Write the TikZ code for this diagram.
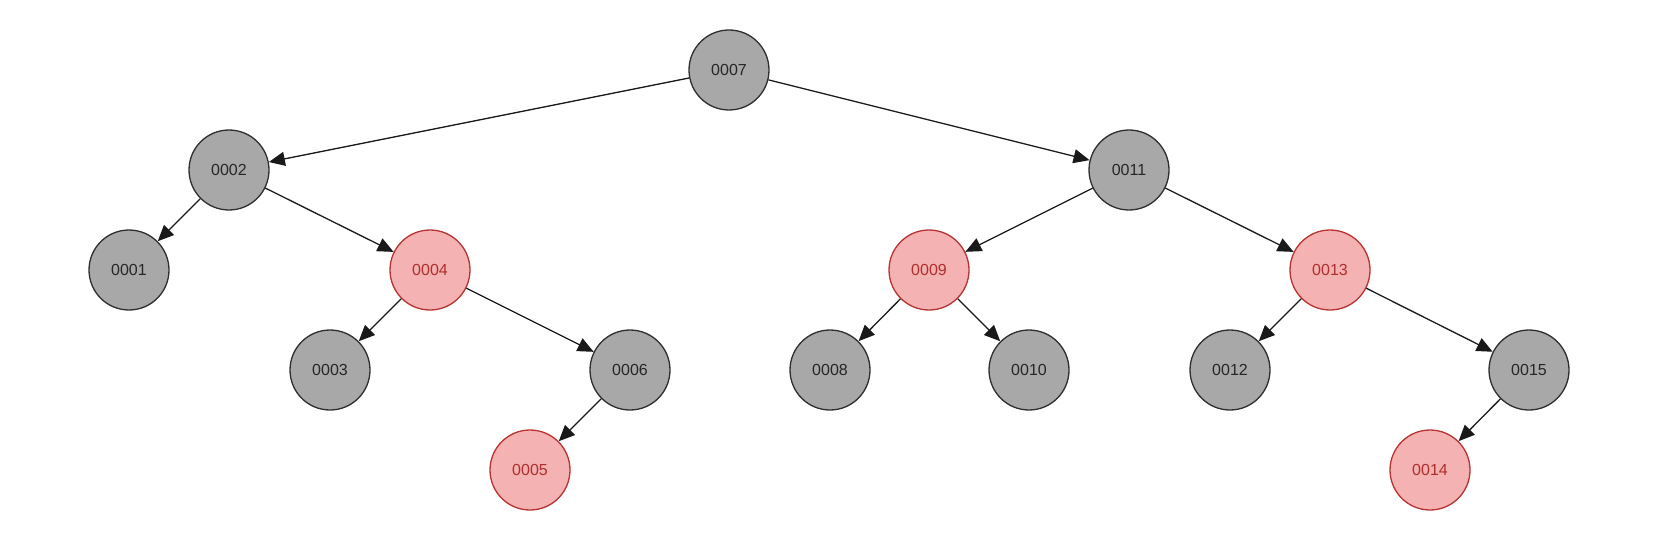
\documentclass[tikz,border=0pt]{standalone}
\usepackage{fontspec}
\setmainfont{Liberation Sans}
\usetikzlibrary{arrows.meta}
\definecolor{gfill}{HTML}{A8A8A8}
\definecolor{gline}{HTML}{2E2E2E}
\definecolor{rfill}{HTML}{F4B2B2}
\definecolor{rline}{HTML}{B83232}
\definecolor{rtext}{HTML}{B02E2E}
\begin{document}
\begin{tikzpicture}[x=1pt,y=-1pt,
  blk/.style={circle,draw=gline,fill=gfill,line width=1.3pt,minimum size=80pt,inner sep=0pt,font=\fontsize{16}{19}\selectfont,text=black!85},
  red/.style={circle,draw=rline,fill=rfill,line width=1.3pt,minimum size=80pt,inner sep=0pt,font=\fontsize{16}{19}\selectfont,text=rtext},
  edge/.style={draw=black!90,line width=1.3pt,-{Triangle[length=16pt,width=14pt]},shorten >=0pt}]
\useasboundingbox (0,0) rectangle (1672,548);
\node[blk] (n7) at (729,70) {0007};
\node[blk] (n2) at (229,170) {0002};
\node[blk] (n11) at (1129,170) {0011};
\node[blk] (n1) at (129,270) {0001};
\node[red] (n4) at (430,270) {0004};
\node[red] (n9) at (929,270) {0009};
\node[red] (n13) at (1330,270) {0013};
\node[blk] (n3) at (330,370) {0003};
\node[blk] (n6) at (630,370) {0006};
\node[blk] (n8) at (830,370) {0008};
\node[blk] (n10) at (1029,370) {0010};
\node[blk] (n12) at (1230,370) {0012};
\node[blk] (n15) at (1529,370) {0015};
\node[red] (n5) at (530,470) {0005};
\node[red] (n14) at (1430,470) {0014};
\draw[edge] (n7) -- (n2);
\draw[edge] (n7) -- (n11);
\draw[edge] (n2) -- (n1);
\draw[edge] (n2) -- (n4);
\draw[edge] (n4) -- (n3);
\draw[edge] (n4) -- (n6);
\draw[edge] (n6) -- (n5);
\draw[edge] (n11) -- (n9);
\draw[edge] (n11) -- (n13);
\draw[edge] (n9) -- (n8);
\draw[edge] (n9) -- (n10);
\draw[edge] (n13) -- (n12);
\draw[edge] (n13) -- (n15);
\draw[edge] (n15) -- (n14);
\end{tikzpicture}
\end{document}
